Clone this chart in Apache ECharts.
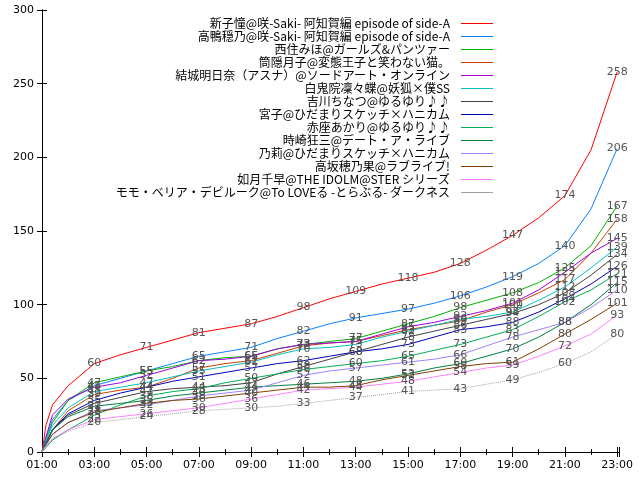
<!DOCTYPE html>
<html>
<head>
<meta charset="utf-8">
<script src="https://cdn.jsdelivr.net/npm/echarts@6/dist/echarts.min.js"></script>
<style>html,body{margin:0;background:#fff}#c{width:640px;height:480px}</style>
</head>
<body>
<div id="c"></div>
<script>
// 時刻(01:00からの経過時間)
const hours = [0, 0.15, 0.4, 1, 2, 3, 4, 5, 6, 7, 8, 9, 10, 11, 12, 13, 14, 15, 16, 17, 18, 19, 20, 21, 22];

const names = [
    '新子憧@咲-Saki- 阿知賀編 episode of side-A',
    '高鴨穏乃@咲-Saki- 阿知賀編 episode of side-A',
    '西住みほ@ガールズ&パンツァー',
    '筒隠月子@変態王子と笑わない猫。',
    '結城明日奈（アスナ）@ソードアート・オンライン',
    '白鬼院凜々蝶@妖狐×僕SS',
    '吉川ちなつ@ゆるゆり♪♪',
    '宮子@ひだまりスケッチ×ハニカム',
    '赤座あかり@ゆるゆり♪♪',
    '時崎狂三@デート・ア・ライブ',
    '乃莉@ひだまりスケッチ×ハニカム',
    '高坂穂乃果@ラブライブ!',
    '如月千早@THE IDOLM@STER シリーズ',
    'モモ・ベリア・デビルーク@To LOVEる -とらぶる- ダークネス'
];
const colors = ['#ff0000', '#0a80ff', '#00b000', '#c84000', '#a000e0', '#00c0c0', '#404040',
    '#0000c0', '#00b050', '#008040', '#a080ff', '#804000', '#ff80ff', '#a0a0a0'];

const s0 = [0, 18, 32, 45, 60, 66, 71, 76, 81, 84, 87, 92, 98, 104, 109, 114, 118, 122, 128, 137, 147, 159, 174, 205, 258];
const s1 = [0, 10, 22, 35, 45, 50, 55, 60, 65, 68, 71, 77, 82, 87, 91, 94, 97, 101, 106, 112, 119, 128, 140, 165, 206];
const s2 = [0, 8, 20, 35, 47, 51, 55, 58, 62, 64, 65, 70, 73, 75, 77, 82, 87, 92, 98, 103, 108, 115, 125, 140, 167];
const s3 = [0, 5, 15, 28, 39, 42, 44, 50, 57, 60, 62, 67, 72, 74, 75, 79, 83, 86, 89, 95, 100, 108, 117, 135, 158];
const s4 = [0, 10, 25, 36, 44, 47, 52, 57, 62, 63, 65, 70, 73, 74, 75, 80, 85, 88, 92, 96, 101, 110, 122, 135, 145];
const s5 = [0, 8, 18, 30, 41, 44, 47, 51, 55, 58, 61, 66, 70, 71, 73, 78, 82, 86, 90, 92, 95, 103, 112, 125, 139];
const s6 = [0, 6, 15, 25, 33, 37, 41, 43, 44, 45, 47, 53, 58, 63, 68, 73, 78, 82, 86, 90, 94, 100, 108, 120, 134];
const s7 = [0, 6, 15, 26, 35, 40, 44, 48, 51, 54, 57, 60, 62, 65, 68, 70, 73, 78, 83, 85, 88, 95, 104, 114, 126];
const s8 = [0, 3, 8, 15, 25, 32, 38, 41, 43, 47, 50, 53, 56, 58, 60, 62, 65, 69, 73, 78, 83, 92, 102, 110, 121];
const s9 = [0, 6, 15, 24, 31, 33, 35, 38, 40, 42, 44, 45, 46, 47, 48, 50, 53, 57, 60, 65, 70, 78, 88, 100, 115];
const s10 = [0, 5, 12, 20, 28, 30, 32, 35, 38, 40, 42, 47, 52, 55, 57, 59, 61, 63, 66, 72, 78, 83, 88, 98, 110];
const s11 = [0, 5, 12, 20, 27, 30, 33, 35, 36, 38, 40, 42, 44, 44, 45, 49, 52, 55, 58, 60, 61, 70, 80, 90, 101];
const s12 = [0, 4, 9, 15, 22, 24, 26, 28, 30, 33, 36, 39, 42, 43, 44, 46, 48, 51, 54, 57, 59, 65, 72, 80, 93];
const s13 = [0, 4, 9, 14, 20, 22, 24, 26, 28, 29, 30, 31, 33, 35, 37, 39, 41, 42, 43, 46, 49, 54, 60, 68, 80];
const seriesValues = [s0, s1, s2, s3, s4, s5, s6, s7, s8, s9, s10, s11, s12, s13];

const yTicks = [0, 50, 100, 150, 200, 250, 300];

function fmtHour(v) {
    const h = Math.round(v) + 1;
    return (h < 10 ? '0' : '') + h + ':00';
}

const series = seriesValues.map((vals, i) => ({
    name: names[i],
    type: 'line',
    symbol: 'none',
    showSymbol: true,
    symbolSize: 0,
    color: colors[i],
    lineStyle: { width: 1, color: colors[i], type: i === 13 ? 'dotted' : 'solid' },
    data: vals.map((v, j) => {
        const t = hours[j];
        const lab = j >= 4 && t % 2 === 0;
        return {
            value: [t, v],
            symbol: lab ? 'circle' : 'none',
            label: { show: lab, position: 'inside', formatter: String(v), color: '#555', fontSize: 11, fontFamily: 'DejaVu Sans' }
        };
    }),
    animation: false
}));

const chart = echarts.init(document.getElementById('c'));
chart.setOption({
    backgroundColor: '#fff',
    animation: false,
    grid: { left: 42, right: 21, top: 10, bottom: 28 },
    legend: {
        orient: 'vertical', right: 142, top: 12, align: 'right', itemGap: 0,
        itemWidth: 32, itemHeight: 1, icon: 'rect', data: names,
        textStyle: { fontFamily: 'Noto Sans CJK JP', fontSize: 12, lineHeight: 13, color: '#000', padding: [0, 6, 0, 0] }
    },
    xAxis: [{
        type: 'value', min: 0, max: 22.07, interval: 2,
        axisLine: { lineStyle: { color: '#000' } },
        axisTick: { inside: true, length: 5, lineStyle: { color: '#000' } },
        minorTick: { show: true, splitNumber: 2, length: 3, lineStyle: { color: '#000' } },
        splitLine: { show: false },
        axisLabel: { formatter: fmtHour, color: '#000', fontSize: 11, fontFamily: 'DejaVu Sans', showMaxLabel: false }
    }, {
        type: 'value', position: 'top', min: 0, max: 22.07, interval: 2,
        axisLine: { show: true, lineStyle: { color: '#000' } },
        axisTick: { inside: true, length: 5, lineStyle: { color: '#000' } },
        minorTick: { show: true, splitNumber: 2, length: 3, lineStyle: { color: '#000' } },
        splitLine: { show: false }, axisLabel: { show: false }
    }],
    yAxis: [{
        type: 'value', min: yTicks[0], max: yTicks[yTicks.length - 1], interval: 50,
        axisLine: { show: true, lineStyle: { color: '#000' } },
        axisTick: { show: true, inside: true, length: 5, lineStyle: { color: '#000' } },
        splitLine: { show: false },
        axisLabel: { color: '#000', fontSize: 11, fontFamily: 'DejaVu Sans' }
    }, {
        type: 'value', position: 'right', min: 0, max: 300, interval: 50,
        axisLine: { show: true, lineStyle: { color: '#000' } },
        axisTick: { show: true, inside: true, length: 5, lineStyle: { color: '#000' } },
        splitLine: { show: false }, axisLabel: { show: false }
    }],
    series: series
});
</script>
</body>
</html>
